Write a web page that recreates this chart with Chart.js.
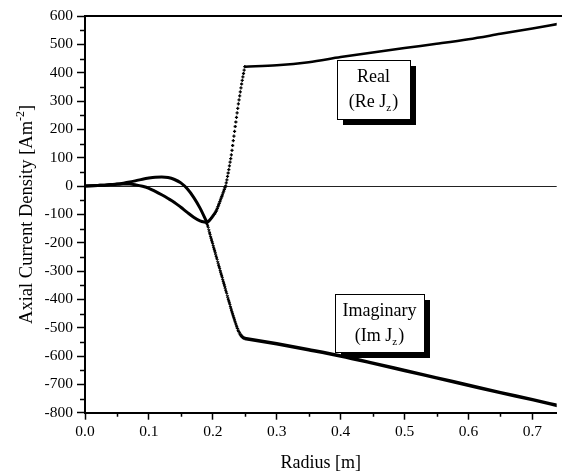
<!DOCTYPE html>
<html>
<head>
<meta charset="utf-8">
<script src="https://cdn.jsdelivr.net/npm/chart.js@4.4.0/dist/chart.umd.min.js"></script>
<style>
  html, body { margin: 0; padding: 0; background: #fff; overflow: hidden; }
  #myChart { display: block; }
</style>
</head>
<body>
<canvas id="myChart" width="562" height="475"></canvas>
<script>
// smooth part near the axis (m, A/m^2)
const radiusInner = [0, 0.01, 0.02, 0.03, 0.04, 0.05, 0.06, 0.07, 0.08, 0.09, 0.10,
                     0.11, 0.12, 0.13, 0.14, 0.15, 0.16, 0.17, 0.18, 0.19];
const realInner = [0, 1, 2, 3, 5, 6, 7, 7, 4, -1, -8, -19, -31, -44, -58, -75, -93, -110, -123, -129];
const imagInner = [0, 1, 2, 3, 5, 7, 10, 14, 19, 24, 28, 31, 32, 30, 23, 11, -10, -40, -78, -125];

// steep part, individual markers visible
const radiusSteep = [0.190, 0.191, 0.192, 0.193, 0.194, 0.195, 0.196, 0.197, 0.198, 0.199,
                     0.200, 0.201, 0.202, 0.203, 0.204, 0.205, 0.206, 0.207, 0.208, 0.209,
                     0.210, 0.211, 0.212, 0.213, 0.214, 0.215, 0.216, 0.217, 0.218, 0.219,
                     0.220, 0.221, 0.222, 0.223, 0.224, 0.225, 0.226, 0.227, 0.228, 0.229,
                     0.230, 0.231, 0.232, 0.233, 0.234, 0.235, 0.236, 0.237, 0.238, 0.239,
                     0.240, 0.241, 0.242, 0.243, 0.244, 0.245, 0.246, 0.247, 0.248, 0.249, 0.250];
const realSteep = [-129, -128, -127, -125, -123, -121, -118, -115, -112, -109,
                   -106, -103, -100, -97, -93, -89, -84, -79, -73, -67,
                   -61, -55, -49, -43, -37, -31, -24, -18, -12, -6,
                   0, 11, 22, 34, 46, 58, 71, 84, 97, 110,
                   126, 143, 160, 176, 193, 210, 226, 242, 258, 274,
                   290, 304, 318, 332, 346, 360, 373, 385, 397, 409, 421];
const imagSteep = [-125, -133, -141, -149, -157, -166, -174, -182, -190, -198,
                   -206, -214, -222, -230, -238, -246, -254, -262, -270, -278,
                   -286, -294, -302, -310, -318, -326, -334, -342, -350, -358,
                   -366, -374, -382, -390, -398, -406, -413, -421, -429, -437,
                   -445, -452, -459, -466, -473, -480, -487, -494, -500, -506,
                   -511, -516, -520, -524, -527, -530, -532, -534, -536, -537, -538];

// outer conductor part
const radiusOuter = [0.25, 0.30, 0.35, 0.40, 0.45, 0.50, 0.55, 0.60, 0.65, 0.70, 0.74];
const realOuter = [421, 426, 437, 455, 471, 487, 502, 518, 537, 556, 572];
const imagOuter = [-538, -557, -578, -600, -625, -651, -677, -703, -729, -754, -775];

const xMinorTicks = [0.05, 0.15, 0.25, 0.35, 0.45, 0.55, 0.65];
const yMinorTicks = [550, 450, 350, 250, 150, 50, -50, -150, -250, -350, -450, -550, -650, -750];

const serif = "'Liberation Serif', 'Times New Roman', serif";

function pts(xs, ys) {
    return xs.map((x, i) => ({x: x, y: ys[i]}));
}

// top frame line + minor ticks + axis titles
const decor = {
    id: 'decor',
    afterDraw(chart) {
        const {ctx, chartArea, scales} = chart;
        const x = scales.x, y = scales.y;
        ctx.save();
        ctx.strokeStyle = '#000';
        ctx.lineWidth = 2;
        ctx.beginPath();
        ctx.moveTo(chartArea.left - 1, chartArea.top);
        ctx.lineTo(chart.width, chartArea.top);
        ctx.stroke();

        ctx.lineWidth = 1.5;
        ctx.beginPath();
        xMinorTicks.forEach(v => {
            const px = Math.round(x.getPixelForValue(v)) + 0.5;
            ctx.moveTo(px, chartArea.bottom);
            ctx.lineTo(px, chartArea.bottom + 4);
        });
        yMinorTicks.forEach(v => {
            const py = Math.round(y.getPixelForValue(v)) + 0.5;
            ctx.moveTo(chartArea.left, py);
            ctx.lineTo(chartArea.left - 5, py);
        });
        ctx.stroke();

        ctx.fillStyle = '#000';
        ctx.font = '18px ' + serif;
        ctx.textAlign = 'center';
        ctx.textBaseline = 'alphabetic';
        ctx.fillText('Radius [m]', (chartArea.left + chartArea.right) / 2, 468);

        // y title with superscript
        const main = 'Axial Current Density [Am';
        const sup = '-2';
        const tail = ']';
        ctx.font = '18.5px ' + serif;
        const w1 = ctx.measureText(main).width;
        const w3 = ctx.measureText(tail).width;
        ctx.font = '12px ' + serif;
        const w2 = ctx.measureText(sup).width;
        const total = w1 + w2 + w3;
        ctx.translate(32, (chartArea.top + chartArea.bottom) / 2);
        ctx.rotate(-Math.PI / 2);
        ctx.textAlign = 'left';
        let cx = -total / 2;
        ctx.font = '18.5px ' + serif;
        ctx.fillText(main, cx, 0);
        cx += w1;
        ctx.font = '12px ' + serif;
        ctx.fillText(sup, cx, -8);
        cx += w2;
        ctx.font = '18.5px ' + serif;
        ctx.fillText(tail, cx, 0);
        ctx.restore();
    }
};

// labelled boxes with drop shadow
const notes = [
    {x: 0.3946, y: 445, w: 73, h: 59, line1: 'Real', pre: '(Re J', post: ')'},
    {x: 0.3915, y: -381, w: 89, h: 58, line1: 'Imaginary', pre: '(Im J', post: ')'}
];

const noteBoxes = {
    id: 'noteBoxes',
    afterDatasetsDraw(chart) {
        const {ctx, scales} = chart;
        ctx.save();
        notes.forEach(n => {
            const left = Math.round(scales.x.getPixelForValue(n.x));
            const top = Math.round(scales.y.getPixelForValue(n.y));
            ctx.fillStyle = '#000';
            ctx.fillRect(left + 6, top + 6, n.w, n.h);
            ctx.fillStyle = '#fff';
            ctx.fillRect(left, top, n.w, n.h);
            ctx.strokeStyle = '#000';
            ctx.lineWidth = 1;
            ctx.strokeRect(left + 0.5, top + 0.5, n.w, n.h);

            const cx = left + n.w / 2;
            ctx.fillStyle = '#000';
            ctx.textBaseline = 'alphabetic';
            ctx.textAlign = 'center';
            ctx.font = '18px ' + serif;
            ctx.fillText(n.line1, cx, top + 22);

            const wPre = ctx.measureText(n.pre).width;
            const wPost = ctx.measureText(n.post).width;
            ctx.font = '11px ' + serif;
            const wSub = ctx.measureText('z').width + 1;
            const total = wPre + wSub + wPost;
            let tx = cx - total / 2;
            ctx.textAlign = 'left';
            ctx.font = '18px ' + serif;
            ctx.fillText(n.pre, tx, top + 47);
            tx += wPre;
            ctx.font = '11px ' + serif;
            ctx.fillText('z', tx, top + 51);
            tx += wSub;
            ctx.font = '18px ' + serif;
            ctx.fillText(n.post, tx, top + 47);
        });
        ctx.restore();
    }
};

const lineStyle = (w) => ({
    showLine: true,
    borderColor: '#000',
    backgroundColor: '#000',
    borderWidth: w,
    pointRadius: 0,
    cubicInterpolationMode: 'monotone'
});

const markerStyle = (shape) => ({
    showLine: false,
    borderColor: '#000',
    backgroundColor: '#000',
    pointStyle: shape,
    pointRadius: 1.6,
    borderWidth: 1.3
});

new Chart(document.getElementById('myChart').getContext('2d'), {
    type: 'scatter',
    data: {
        datasets: [
            Object.assign({label: 'Re Jz', data: pts(radiusInner, realInner)}, lineStyle(3)),
            Object.assign({label: 'Re Jz', data: pts(radiusSteep, realSteep)}, markerStyle('cross')),
            Object.assign({label: 'Re Jz', data: pts(radiusOuter, realOuter)}, lineStyle(2.5)),
            Object.assign({label: 'Im Jz', data: pts(radiusInner, imagInner)}, lineStyle(3)),
            Object.assign({label: 'Im Jz', data: pts(radiusSteep, imagSteep)}, markerStyle('crossRot')),
            Object.assign({label: 'Im Jz', data: pts(radiusOuter, imagOuter)}, lineStyle(3.5))
        ]
    },
    options: {
        animation: false,
        responsive: false,
        devicePixelRatio: 1,
        layout: {padding: {top: 16, left: 0, right: 0, bottom: 0}},
        plugins: {legend: {display: false}, tooltip: {enabled: false}},
        scales: {
            x: {
                type: 'linear',
                min: 0,
                max: 0.738,
                afterFit: s => { s.height = 62.3; s.paddingLeft = 0; s.paddingRight = 0; },
                border: {display: true, color: '#000', width: 2},
                grid: {drawOnChartArea: false, drawTicks: true, tickLength: 7, tickColor: '#000', tickWidth: 1.5},
                ticks: {
                    stepSize: 0.1,
                    includeBounds: false,
                    autoSkip: false,
                    maxRotation: 0,
                    padding: 3,
                    color: '#000',
                    font: {family: serif, size: 15.5},
                    callback: v => v.toFixed(1)
                }
            },
            y: {
                type: 'linear',
                min: -800,
                max: 600,
                afterFit: s => { s.width = 85; },
                border: {display: true, color: '#000', width: 2},
                grid: {
                    drawOnChartArea: true,
                    drawTicks: true,
                    tickLength: 8,
                    tickColor: '#000',
                    tickWidth: 1.5,
                    lineWidth: 1,
                    color: c => (c.tick && c.tick.value === 0) ? '#222' : 'transparent'
                },
                ticks: {
                    stepSize: 100,
                    padding: 4,
                    color: '#000',
                    font: {family: serif, size: 15.5}
                }
            }
        }
    },
    plugins: [noteBoxes, decor]
});
</script>
</body>
</html>
